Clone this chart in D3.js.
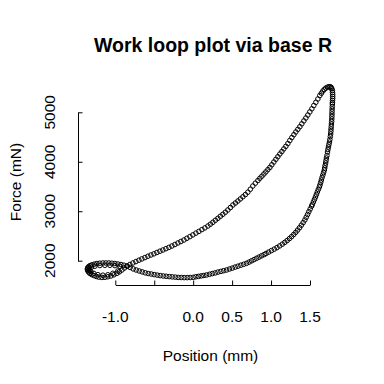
<!DOCTYPE html>
<html>
<head>
<meta charset="utf-8">
<script src="https://cdn.jsdelivr.net/npm/d3@7"></script>
<style>
  html, body { margin: 0; padding: 0; background: #ffffff; }
  svg { display: block; }
  text { font-family: "Liberation Sans", Arial, "DejaVu Sans", sans-serif; fill: #000; }
</style>
</head>
<body>
<svg id="chart" width="384" height="384"></svg>
<script>
// ---- Data ----
const titleText = "Work loop plot via base R";
const xLabelText = "Position (mm)";
const yLabelText = "Force (mN)";

const xTicks = [-1.0, -0.5, 0.0, 0.5, 1.0, 1.5];
const xTickLabels = ["-1.0", "", "0.0", "0.5", "1.0", "1.5"];
const yTicks = [2000, 3000, 4000, 5000];
const yTickLabels = ["2000", "3000", "4000", "5000"];

// Position (mm) of each sample, in loop order
const positionMm = [
  -0.851,-0.813,-0.774,-0.736,-0.697,-0.659,-0.620,-0.582,-0.543,-0.504,
  -0.466,-0.427,-0.389,-0.350,-0.312,-0.273,-0.235,-0.196,-0.158,-0.119,
  -0.081,-0.042,-0.004,0.035,0.073,0.112,0.150,0.189,0.221,0.253,
  0.285,0.317,0.349,0.381,0.413,0.445,0.478,0.510,0.542,0.574,
  0.606,0.638,0.670,0.702,0.734,0.766,0.798,0.831,0.856,0.882,
  0.908,0.933,0.959,0.985,1.010,1.036,1.062,1.087,1.113,1.139,
  1.164,1.190,1.216,1.241,1.267,1.293,1.318,1.344,1.370,1.395,
  1.421,1.447,1.472,1.498,1.524,1.549,1.575,1.601,1.626,1.646,
  1.665,1.684,1.703,1.723,1.742,1.759,1.772,1.780,1.787,1.789,
  1.791,1.791,1.791,1.789,1.788,1.787,1.786,1.784,1.783,1.782,
  1.781,1.780,1.778,1.775,1.773,1.770,1.768,1.765,1.761,1.755,
  1.750,1.743,1.737,1.730,1.725,1.718,1.711,1.706,1.701,1.694,
  1.689,1.684,1.675,1.665,1.655,1.646,1.637,1.628,1.620,1.607,
  1.594,1.582,1.570,1.557,1.544,1.530,1.520,1.502,1.485,1.469,
  1.451,1.434,1.412,1.389,1.366,1.341,1.317,1.291,1.264,1.236,
  1.207,1.176,1.144,1.110,1.076,1.041,1.005,0.969,0.936,
  0.910,0.878,0.846,0.814,0.782,0.750,0.718,0.685,0.648,0.612,
  0.575,0.539,0.502,0.466,0.429,0.392,0.356,0.318,0.282,0.245,
  0.209,0.172,0.137,0.103,0.069,0.035,0.000,-0.039,-0.077,-0.116,
  -0.154,-0.193,-0.231,-0.270,-0.308,-0.347,-0.385,-0.424,-0.462,-0.501,
  -0.539,-0.578,-0.616,-0.655,-0.693,-0.732,-0.770,-0.809,-0.847,-0.890,
  -0.928,-0.967,-1.005,-1.044,-1.082,-1.121,-1.159,-1.198,-1.236,-1.268,
  -1.300,-1.324,-1.341,-1.353,-1.358,-1.357,-1.352,-1.341,-1.326,-1.303,
  -1.275,-1.243,-1.211,-1.172,-1.134,-1.095,-1.056,-1.018,-0.979,-0.947,
  -0.915,-0.883,
  // second, slightly inner pass around the left-hand loop
  -0.941,-1.005,-1.069,-1.134,-1.198,-1.262,-1.307,-1.331,-1.331,-1.313,
  -1.275,-1.223,-1.159,-1.095,-1.031,-0.967
];

// Force (mN) of each sample, same order
const forceMn = [
  1893,1923,1954,1982,2010,2036,2063,2089,2115,2139,
  2166,2192,2216,2243,2269,2297,2327,2358,2388,2418,
  2453,2487,2522,2558,2592,2629,2663,2701,2738,2776,
  2817,2857,2898,2938,2980,3025,3075,3126,3166,3207,
  3249,3292,3336,3385,3445,3510,3567,3621,3666,3708,
  3753,3795,3841,3886,3939,3995,4050,4102,4157,4207,
  4260,4312,4369,4430,4490,4547,4602,4656,4709,4767,
  4826,4885,4945,5008,5071,5137,5202,5269,5339,5386,
  5430,5463,5489,5507,5517,5517,5503,5477,5440,5400,
  5360,5319,5279,5238,5198,5168,5117,5066,5016,4965,
  4915,4864,4814,4763,4713,4662,4612,4561,4511,4450,
  4399,4349,4298,4248,4197,4127,4076,4025,3975,3924,
  3874,3833,3783,3732,3682,3631,3581,3530,3490,3439,
  3389,3338,3288,3237,3187,3136,3102,3045,2990,2934,
  2879,2823,2770,2718,2667,2619,2574,2530,2487,2447,
  2408,2370,2334,2299,2265,2234,2204,2174,2146,
  2123,2099,2073,2049,2022,1998,1972,1947,1927,1909,
  1889,1871,1850,1832,1812,1798,1784,1770,1753,1739,
  1725,1711,1701,1693,1683,1675,1664,1660,1658,1658,
  1660,1662,1668,1673,1679,1685,1691,1699,1709,1719,
  1731,1741,1755,1774,1792,1812,1834,1863,1889,1909,
  1923,1933,1943,1949,1954,1954,1954,1949,1943,1931,
  1917,1901,1881,1861,1838,1816,1792,1768,1743,1721,
  1699,1681,1668,1662,1664,1675,1691,1715,1745,1776,
  1812,1852,
  1887,1901,1907,1907,1903,1889,1867,1836,1804,1776,
  1743,1717,1707,1715,1745,1792
];

// ---- Layout ----
const svg = d3.select("#chart");
const W = 384, H = 384;
svg.append("rect").attr("width", W).attr("height", H).attr("fill", "#fff");

const x = d3.scaleLinear().domain([-1.0, 1.5]).range([115.3, 310.0]);
const y = d3.scaleLinear().domain([2000, 5000]).range([260.7, 112.3]);

const axisY0 = 285;   // x-axis line row
const axisX0 = 78;    // y-axis line column

// Points
svg.append("g")
  .selectAll("circle")
  .data(positionMm.map((p, i) => ({ p, f: forceMn[i] })))
  .join("circle")
  .attr("cx", d => x(d.p))
  .attr("cy", d => y(d.f))
  .attr("r", 2.3)
  .attr("fill", "none")
  .attr("stroke", "#000")
  .attr("stroke-width", 1);

// X axis (ticks pointing inward, as in the reference)
const gx = svg.append("g")
  .attr("transform", `translate(0,${axisY0})`)
  .call(d3.axisBottom(x).tickValues(xTicks).tickSizeInner(-4.5).tickSizeOuter(0).tickFormat(() => ""));
gx.selectAll("path, line").attr("stroke", "#000").attr("stroke-width", 1);

svg.append("g").selectAll("text")
  .data(xTicks.map((v, i) => ({ v, t: xTickLabels[i] })).filter(d => d.t !== ""))
  .join("text")
  .attr("x", d => x(d.v))
  .attr("y", 321.5)
  .attr("text-anchor", "middle")
  .style("font-size", "15.5px")
  .text(d => d.t);

// Y axis
const gy = svg.append("g")
  .attr("transform", `translate(${axisX0},0)`)
  .call(d3.axisLeft(y).tickValues(yTicks).tickSizeInner(-4.5).tickSizeOuter(0).tickFormat(() => ""));
gy.selectAll("path, line").attr("stroke", "#000").attr("stroke-width", 1);

svg.append("g").selectAll("text")
  .data(yTicks.map((v, i) => ({ v, t: yTickLabels[i] })))
  .join("text")
  .attr("transform", d => `translate(54.5,${y(d.v)}) rotate(-90)`)
  .attr("text-anchor", "middle")
  .style("font-size", "15.5px")
  .text(d => d.t);

// Titles
svg.append("text")
  .attr("x", 213).attr("y", 52.3)
  .attr("text-anchor", "middle")
  .style("font-size", "19.5px").style("font-weight", "bold")
  .text(titleText);

svg.append("text")
  .attr("x", 210.5).attr("y", 360.5)
  .attr("text-anchor", "middle")
  .style("font-size", "15.5px")
  .text(xLabelText);

svg.append("text")
  .attr("transform", `translate(20.5,182) rotate(-90)`)
  .attr("text-anchor", "middle")
  .style("font-size", "15.5px")
  .text(yLabelText);
</script>
</body>
</html>
